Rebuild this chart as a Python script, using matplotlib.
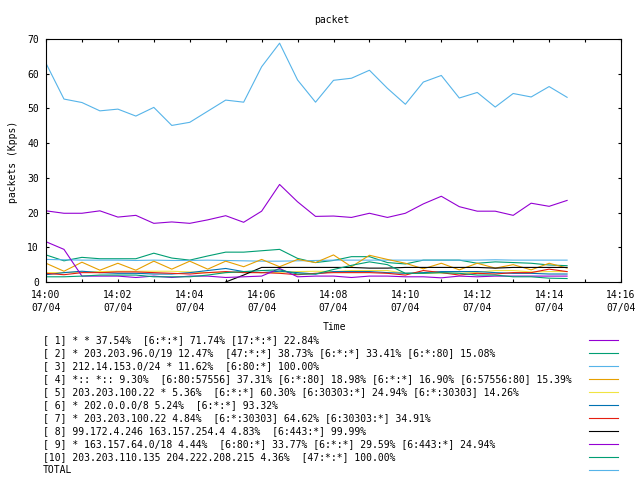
import numpy as np
import pandas as pd
import matplotlib
matplotlib.use("Agg")
import matplotlib.pyplot as plt
import matplotlib.dates as mdates
from matplotlib.lines import Line2D

# samples every 30 s from 14:00 to 14:14:30
times = pd.date_range("2023-07-04 14:00:00", periods=30, freq="30s")

nan = np.nan
s1 = [20.5, 19.8, 19.8, 20.5, 18.7, 19.2, 16.9, 17.3, 16.9, 17.9,
      19.1, 17.2, 20.4, 28.1, 23.1, 18.9, 19.0, 18.6, 19.8, 18.6,
      19.8, 22.5, 24.7, 21.7, 20.4, 20.4, 19.2, 22.7, 21.8, 23.5]
s2 = [7.8, 6.1, 7.1, 6.7, 6.7, 6.7, 8.3, 6.9, 6.3, 7.5,
      8.6, 8.6, 9.0, 9.4, 6.8, 5.6, 6.2, 7.3, 7.3, 5.6,
      5.2, 6.3, 6.3, 6.3, 5.4, 5.8, 5.6, 5.4, 4.9, 4.7]
s3 = [6.5, 6.4, 6.3, 6.3, 6.3, 6.2, 6.3, 6.2, 6.2, 6.3,
      6.2, 6.1, 6.0, 6.0, 6.1, 6.2, 6.3, 6.3, 6.3, 6.3,
      6.3, 6.3, 6.3, 6.3, 6.3, 6.4, 6.3, 6.3, 6.3, 6.3]
s4 = [5.4, 3.1, 5.7, 3.4, 5.4, 3.4, 6.0, 3.7, 6.0, 3.7,
      6.0, 4.4, 6.5, 4.4, 6.5, 5.6, 7.8, 4.4, 7.7, 6.5,
      5.4, 3.8, 5.4, 3.5, 5.4, 4.0, 5.0, 3.5, 5.4, 4.0]
s5 = [2.7, 2.7, 2.9, 3.0, 3.1, 3.1, 3.1, 3.1, 2.9, 2.7,
      2.7, 2.8, 2.7, 2.8, 3.0, 3.1, 3.0, 3.3, 3.3, 3.3,
      2.5, 2.5, 2.6, 2.5, 2.8, 3.3, 3.3, 2.9, 3.0, 3.0]
s6 = [2.1, 2.7, 3.1, 2.7, 2.5, 2.5, 2.3, 2.3, 2.7, 3.3,
      3.9, 3.0, 2.7, 3.1, 2.7, 2.3, 3.0, 3.0, 3.0, 2.7,
      2.5, 2.7, 3.0, 3.0, 3.0, 2.7, 2.5, 2.5, 2.3, 2.3]
s7 = [2.5, 2.1, 2.7, 2.7, 2.9, 2.9, 2.7, 2.5, 2.3, 2.7,
      3.0, 2.7, 2.7, 2.5, 2.1, 2.5, 2.7, 2.7, 2.7, 2.5,
      2.0, 3.3, 2.7, 2.0, 2.5, 2.3, 2.7, 2.7, 3.7, 3.0]
s8 = [nan, nan, nan, nan, nan, nan, nan, nan, nan, nan,
      0.0, 2.0, 4.2, 4.2, 4.2, 4.2, 4.2, 4.2, 4.0, 4.0,
      4.2, 4.2, 4.2, 4.2, 4.2, 4.0, 4.2, 4.2, 4.2, 4.2]
s9 = [11.6, 9.4, 1.7, 1.7, 1.7, 1.3, 1.7, 1.3, 1.7, 1.7,
      1.3, 1.5, 1.7, 3.9, 1.5, 1.7, 1.7, 1.3, 1.7, 1.7,
      1.5, 1.5, 1.2, 1.7, 1.5, 1.7, 1.7, 1.7, 1.7, 1.7]
s10 = [1.5, 1.5, 1.7, 2.0, 2.0, 2.0, 1.5, 1.5, 1.5, 2.0,
       2.7, 3.0, 3.3, 3.5, 2.3, 2.3, 3.6, 4.8, 5.8, 5.0,
       2.5, 2.5, 2.7, 2.5, 2.0, 2.0, 1.5, 1.5, 1.1, 1.0]
total = [63.0, 52.7, 51.7, 49.3, 49.8, 47.8, 50.3, 45.1, 46.0, 49.2,
         52.4, 51.8, 62.0, 68.8, 58.2, 51.8, 58.1, 58.7, 61.0, 55.8,
         51.2, 57.6, 59.5, 53.0, 54.6, 50.4, 54.3, 53.3, 56.3, 53.2]

labels = [
    "[ 1] * * 37.54%  [6:*:*] 71.74% [17:*:*] 22.84%",
    "[ 2] * 203.203.96.0/19 12.47%  [47:*:*] 38.73% [6:*:*] 33.41% [6:*:80] 15.08%",
    "[ 3] 212.14.153.0/24 * 11.62%  [6:80:*] 100.00%",
    "[ 4] *:: *:: 9.30%  [6:80:57556] 37.31% [6:*:80] 18.98% [6:*:*] 16.90% [6:57556:80] 15.39%",
    "[ 5] 203.203.100.22 * 5.36%  [6:*:*] 60.30% [6:30303:*] 24.94% [6:*:30303] 14.26%",
    "[ 6] * 202.0.0.0/8 5.24%  [6:*:*] 93.32%",
    "[ 7] * 203.203.100.22 4.84%  [6:*:30303] 64.62% [6:30303:*] 34.91%",
    "[ 8] 99.172.4.246 163.157.254.4 4.83%  [6:443:*] 99.99%",
    "[ 9] * 163.157.64.0/18 4.44%  [6:80:*] 33.77% [6:*:*] 29.59% [6:443:*] 24.94%",
    "[10] 203.203.110.135 204.222.208.215 4.36%  [47:*:*] 100.00%",
    "TOTAL",
]
series = [s1, s2, s3, s4, s5, s6, s7, s8, s9, s10, total]
colors = ["#9400d3", "#009e73", "#56b4e9", "#e69f00", "#f0e442",
          "#0072b2", "#e51e10", "#000000", "#9400d3", "#009e73", "#56b4e9"]

plt.rcParams["font.family"] = ["DejaVu Sans Mono", "DejaVu Sans"]
fs = 7

fig = plt.figure(figsize=(6.4, 4.8), dpi=100)
ax = fig.add_axes([46 / 640, 1 - 282 / 480, (621 - 46) / 640, (282 - 39) / 480])

for ys, c in zip(series, colors):
    ax.plot(times, ys, color=c, lw=0.8)

ax.set_xlim(pd.Timestamp("2023-07-04 14:00"), pd.Timestamp("2023-07-04 14:16"))
ax.set_ylim(0, 70)
ax.set_yticks(range(0, 71, 10))
ax.xaxis.set_major_locator(mdates.MinuteLocator(byminute=range(0, 60, 2)))
ax.xaxis.set_minor_locator(mdates.MinuteLocator())
ax.xaxis.set_major_formatter(mdates.DateFormatter("%H:%M\n%m/%d"))
ax.tick_params(which="both", direction="in", top=True, right=True,
               length=2.5, width=0.8, labelsize=fs)
ax.tick_params(axis="x", pad=6)
ax.tick_params(axis="y", pad=5)
for lab in ax.get_xticklabels():
    lab.set_linespacing(1.3)
for sp in ax.spines.values():
    sp.set_linewidth(0.8)

fig.text(332 / 640, 1 - 20 / 480, "packet", ha="center", va="center", fontsize=fs)
fig.text(13 / 640, 1 - 162 / 480, "packets (Kpps)", ha="center", va="center",
         rotation=90, fontsize=fs)
fig.text(334 / 640, 1 - 327 / 480, "Time", ha="center", va="center", fontsize=fs)

for k, (lab, c) in enumerate(zip(labels, colors)):
    y = 1 - (340 + 13 * k) / 480
    fig.text(43 / 640, y, lab, ha="left", va="center", fontsize=fs)
    fig.add_artist(Line2D([589 / 640, 618 / 640], [y, y], color=c, lw=0.8,
                          transform=fig.transFigure))

fig.savefig("out.png", dpi=100)
